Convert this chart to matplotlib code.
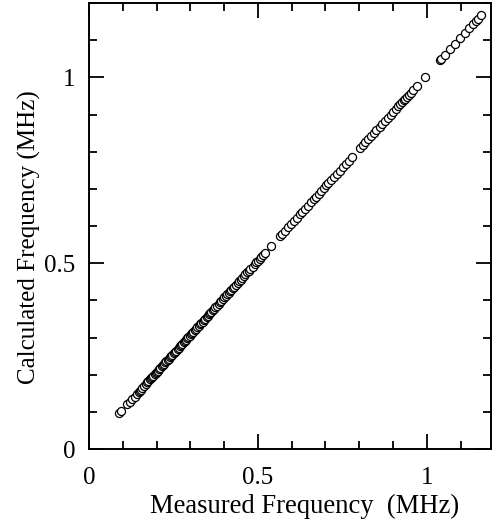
import matplotlib
matplotlib.use("Agg")
import matplotlib.pyplot as plt
from matplotlib.ticker import MultipleLocator

measured = [
    0.090, 0.096, 0.113, 0.120, 0.128, 0.135, 0.142, 0.147, 0.150, 0.153,
    0.157, 0.163, 0.168, 0.172, 0.176, 0.180, 0.183, 0.187, 0.190, 0.194,
    0.197, 0.200, 0.204, 0.208, 0.211, 0.215, 0.219, 0.222, 0.226, 0.229,
    0.233, 0.236, 0.240, 0.244, 0.247, 0.251, 0.255, 0.258, 0.262, 0.265,
    0.269, 0.272, 0.276, 0.280, 0.283, 0.287, 0.291, 0.294, 0.298, 0.302,
    0.306, 0.309, 0.313, 0.317, 0.321, 0.325, 0.329, 0.333, 0.336, 0.340,
    0.344, 0.348, 0.351, 0.355, 0.358, 0.362, 0.366, 0.370, 0.374, 0.379,
    0.384, 0.388, 0.392, 0.397, 0.401, 0.405, 0.409, 0.413, 0.417, 0.421,
    0.425, 0.430, 0.435, 0.440, 0.444, 0.449, 0.453, 0.458, 0.463, 0.468,
    0.473, 0.478, 0.484, 0.490, 0.495, 0.500, 0.505, 0.510, 0.515, 0.520,
    0.540, 0.565, 0.572, 0.580, 0.590, 0.598, 0.607, 0.615, 0.624, 0.632,
    0.640, 0.648, 0.657, 0.665, 0.672, 0.680, 0.688, 0.695, 0.702, 0.708,
    0.716, 0.724, 0.733, 0.742, 0.751, 0.760, 0.769, 0.778, 0.803, 0.810,
    0.818, 0.826, 0.836, 0.843, 0.851, 0.860, 0.868, 0.876, 0.884, 0.893,
    0.901, 0.908, 0.915, 0.921, 0.926, 0.931, 0.936, 0.941, 0.946, 0.952,
    0.958, 0.970, 0.994, 1.040, 1.043, 1.054, 1.068, 1.083, 1.098, 1.112,
    1.125, 1.136, 1.145, 1.151, 1.160,
]

calculated = [
    0.098, 0.103, 0.120, 0.127, 0.134, 0.141, 0.148, 0.153, 0.157, 0.160,
    0.164, 0.170, 0.175, 0.179, 0.183, 0.187, 0.190, 0.194, 0.197, 0.201,
    0.204, 0.207, 0.211, 0.215, 0.218, 0.222, 0.226, 0.229, 0.233, 0.236,
    0.240, 0.243, 0.247, 0.251, 0.254, 0.258, 0.262, 0.265, 0.269, 0.272,
    0.276, 0.279, 0.283, 0.287, 0.290, 0.294, 0.298, 0.301, 0.305, 0.309,
    0.313, 0.316, 0.320, 0.324, 0.328, 0.332, 0.336, 0.340, 0.343, 0.347,
    0.351, 0.355, 0.358, 0.362, 0.365, 0.369, 0.373, 0.377, 0.381, 0.386,
    0.391, 0.395, 0.399, 0.404, 0.408, 0.412, 0.416, 0.420, 0.424, 0.428,
    0.432, 0.437, 0.442, 0.447, 0.451, 0.456, 0.460, 0.465, 0.470, 0.475,
    0.480, 0.485, 0.491, 0.497, 0.502, 0.507, 0.512, 0.517, 0.522, 0.527,
    0.547, 0.572, 0.579, 0.587, 0.597, 0.605, 0.614, 0.622, 0.631, 0.639,
    0.647, 0.655, 0.664, 0.672, 0.679, 0.687, 0.695, 0.702, 0.709, 0.715,
    0.723, 0.731, 0.740, 0.749, 0.758, 0.767, 0.776, 0.785, 0.810, 0.817,
    0.825, 0.833, 0.843, 0.850, 0.858, 0.867, 0.875, 0.883, 0.891, 0.900,
    0.908, 0.915, 0.922, 0.928, 0.933, 0.938, 0.943, 0.948, 0.953, 0.959,
    0.965, 0.977, 1.000, 1.047, 1.050, 1.061, 1.075, 1.090, 1.105, 1.119,
    1.132, 1.143, 1.152, 1.158, 1.167,
]

plt.rcParams['font.family'] = ['Liberation Serif', 'DejaVu Serif']

fig = plt.figure(figsize=(5.01, 5.26), dpi=100)
ax = fig.add_axes([89/501, 1 - 449/526, (491 - 89)/501, (449 - 3)/526])

ax.plot(measured, calculated, linestyle='none', marker='o', markersize=5.8,
        markerfacecolor='white', markeredgecolor='black', markeredgewidth=0.9)

ax.set_xlim(0, 1.19)
ax.set_ylim(0, 1.2)
ax.xaxis.set_minor_locator(MultipleLocator(0.1))
ax.yaxis.set_minor_locator(MultipleLocator(0.1))
ax.set_xticks([0, 0.5, 1])
ax.set_xticklabels(['0', '0.5', '1'])
ax.set_yticks([0, 0.5, 1])
ax.set_yticklabels(['0', '0.5', '1'])

ax.tick_params(which='both', direction='in', top=True, right=True,
               width=1.3, labelsize=18, colors='black')
ax.tick_params(which='major', length=11)
ax.tick_params(which='minor', length=5.5)
ax.tick_params(axis='x', which='major', pad=13)
ax.tick_params(axis='y', which='major', pad=10)
for s in ax.spines.values():
    s.set_linewidth(1.4)

ax.set_xlabel('Measured Frequency  (MHz)', fontsize=19.2)
ax.set_ylabel('Calculated Frequency (MHz)', fontsize=18)
ax.xaxis.set_label_coords((305 - 89) / 402, (449 - 494) / 446)
ax.yaxis.set_label_coords((41 - 89) / 402, (449 - 237) / 446)

fig.savefig('out.png', dpi=100)
